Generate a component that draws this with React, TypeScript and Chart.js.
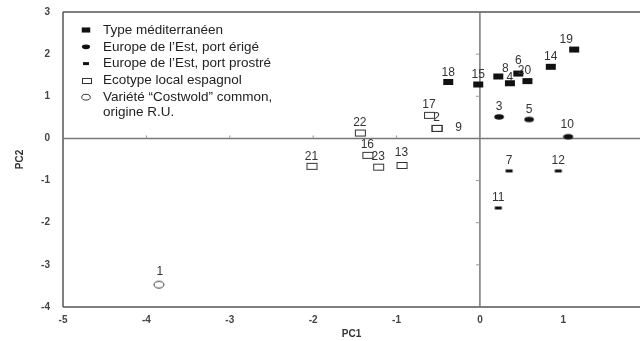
import React, { useEffect, useRef } from 'react';
import { Chart, registerables } from 'chart.js';

Chart.register(...registerables);

const FONT = "'Liberation Sans', Arial, Helvetica, sans-serif";

// ---- Data ----
const seriesNames = [
  'Type méditerranéen',
  'Europe de l’Est, port érigé',
  'Europe de l’Est, port prostré',
  'Ecotype local espagnol',
  'Variété “Costwold” common,',
];
const seriesNameContinuation = 'origine R.U.';

const medLabels = ['18', '15', '8', '4', '6', '20', '14', '19'];
const medX = [-0.38, -0.02, 0.22, 0.36, 0.46, 0.57, 0.85, 1.13];
const medY = [1.34, 1.28, 1.47, 1.31, 1.54, 1.36, 1.7, 2.11];

const erigeLabels = ['3', '5', '10'];
const erigeX = [0.23, 0.59, 1.06];
const erigeY = [0.51, 0.45, 0.04];

const prostreLabels = ['7', '12', '11'];
const prostreX = [0.35, 0.94, 0.22];
const prostreY = [-0.77, -0.77, -1.65];

const ecoLabels = ['17', '2', '9', '22', '16', '23', '13', '21'];
const ecoX = [-0.61, -0.52, -0.52, -1.44, -1.35, -1.22, -0.94, -2.02];
const ecoY = [0.56, 0.25, 0.25, 0.14, -0.39, -0.67, -0.63, -0.65];

const costLabels = ['1'];
const costX = [-3.85];
const costY = [-3.47];

const xTicks = [-5, -4, -3, -2, -1, 0, 1];
const yTicks = [-4, -3, -2, -1, 0, 1, 2, 3];
const xMin = -5;
const xMax = 1.92;
const yMin = -4;
const yMax = 3;

// ---- Styles ----
const labelOffsets: Record<string, [number, number]> = {
  '19': [-8, -10],
  '8': [7, -8],
  '4': [0, -6],
  '6': [0, -13],
  '9': [22, 0],
  '20': [-3, -10],
  '1': [1, -13],
  '10': [-1, -12],
  '13': [0, -12],
  '18': [0, -9],
  '21': [0, -9],
};

type Kind = 'fillRect' | 'fillEllipse' | 'dash' | 'openRect' | 'openEllipse';

function drawMarker(ctx: CanvasRenderingContext2D, kind: Kind, cx: number, cy: number, scale = 1) {
  ctx.save();
  ctx.fillStyle = '#111';
  ctx.strokeStyle = '#333';
  ctx.lineWidth = 1;
  if (kind === 'fillRect') {
    const w = 10 * scale, h = 6 * scale;
    ctx.fillRect(cx - w / 2, cy - h / 2, w, h);
  } else if (kind === 'fillEllipse') {
    ctx.beginPath();
    ctx.ellipse(cx, cy, 4.8 * scale, 2.8 * scale, 0, 0, Math.PI * 2);
    ctx.fill();
  } else if (kind === 'dash') {
    const w = 7 * scale, h = 3;
    ctx.fillRect(cx - w / 2, cy - h / 2, w, h);
  } else if (kind === 'openRect') {
    const w = 10 * scale, h = 6 * scale;
    ctx.strokeRect(Math.round(cx - w / 2) + 0.5, Math.round(cy - h / 2) + 0.5, Math.round(w), Math.round(h));
  } else {
    ctx.beginPath();
    ctx.ellipse(cx, cy, 5 * scale, 3.4 * scale, 0, 0, Math.PI * 2);
    ctx.stroke();
  }
  ctx.restore();
}

function markerCanvas(kind: Kind): HTMLCanvasElement {
  const c = document.createElement('canvas');
  c.width = 14;
  c.height = 10;
  const ctx = c.getContext('2d')!;
  drawMarker(ctx, kind, 7, 5);
  return c;
}

const kinds: Kind[] = ['fillRect', 'fillEllipse', 'dash', 'openRect', 'openEllipse'];

function toPoints(xs: number[], ys: number[]) {
  return xs.map((x, i) => ({ x, y: ys[i] }));
}

export default function App() {
  const ref = useRef<HTMLCanvasElement>(null);

  useEffect(() => {
    document.body.style.margin = '0';
    const canvas = ref.current!;
    const groups = [
      { xs: medX, ys: medY, labels: medLabels },
      { xs: erigeX, ys: erigeY, labels: erigeLabels },
      { xs: prostreX, ys: prostreY, labels: prostreLabels },
      { xs: ecoX, ys: ecoY, labels: ecoLabels },
      { xs: costX, ys: costY, labels: costLabels },
    ];

    const decor = {
      id: 'decor',
      beforeDatasetsDraw(chart: any) {
        const { ctx, chartArea: a, scales } = chart;
        const xs = scales.x, ys = scales.y;
        const line = (x1: number, y1: number, x2: number, y2: number) => {
          ctx.beginPath();
          ctx.moveTo(x1, y1);
          ctx.lineTo(x2, y2);
          ctx.stroke();
        };
        ctx.save();
        ctx.strokeStyle = '#555';
        ctx.lineWidth = 1.5;
        line(a.left, a.top, a.right, a.top);
        line(a.left, a.top, a.left, a.bottom);
        line(a.left, a.bottom, a.right, a.bottom);
        const x0 = xs.getPixelForValue(0);
        const y0 = ys.getPixelForValue(0);
        ctx.strokeStyle = '#777';
        line(x0, a.top, x0, a.bottom);
        line(a.left, y0, a.right, y0);
        ctx.lineWidth = 1;
        ctx.strokeStyle = '#999';
        for (const t of yTicks) {
          if (t === yMin || t === yMax || t === 0) continue;
          const py = ys.getPixelForValue(t);
          line(x0 - 4, py, x0, py);
        }
        for (const t of xTicks) {
          if (t === xMin || t === 0) continue;
          const px = xs.getPixelForValue(t);
          line(px, y0 - 3, px, y0);
        }
        ctx.restore();
      },
      afterDatasetsDraw(chart: any) {
        const { ctx } = chart;
        ctx.save();
        ctx.font = `12px ${FONT}`;
        ctx.fillStyle = '#333';
        ctx.textAlign = 'center';
        ctx.textBaseline = 'middle';
        groups.forEach((g, di) => {
          const meta = chart.getDatasetMeta(di);
          meta.data.forEach((el: any, i: number) => {
            const lab = g.labels[i];
            const off = labelOffsets[lab] || [0, -10];
            ctx.fillText(lab, el.x + off[0], el.y + off[1]);
          });
        });
        ctx.restore();
      },
      afterDraw(chart: any) {
        const { ctx, chartArea: a } = chart;
        ctx.save();
        const mx = a.left + 23;
        const tx = a.left + 40;
        const y0 = a.top + 18;
        const step = 16.8;
        ctx.font = `13.5px ${FONT}`;
        ctx.fillStyle = '#222';
        ctx.textAlign = 'left';
        ctx.textBaseline = 'middle';
        seriesNames.forEach((name, i) => {
          const yy = y0 + i * step;
          drawMarker(ctx, kinds[i], mx, yy, 0.85);
          ctx.fillStyle = '#222';
          ctx.fillText(name, tx, yy);
        });
        ctx.fillText(seriesNameContinuation, tx, y0 + 5 * step - 1.5);
        ctx.restore();
      },
    };

    const chart = new Chart(canvas, {
      type: 'scatter',
      data: {
        datasets: groups.map((g, i) => ({
          label: seriesNames[i],
          data: toPoints(g.xs, g.ys),
          pointStyle: markerCanvas(kinds[i]) as any,
          pointRadius: 5,
          backgroundColor: '#111',
          borderColor: '#111',
        })),
      },
      options: {
        responsive: false,
        animation: false,
        layout: { autoPadding: false, padding: { top: 12, left: 0, right: 0, bottom: 0 } },
        plugins: {
          legend: { display: false },
          tooltip: { enabled: false },
        },
        scales: {
          x: {
            type: 'linear',
            min: xMin,
            max: xMax,
            afterBuildTicks: (s: any) => {
              s.ticks = xTicks.map((v) => ({ value: v }));
            },
            ticks: {
              font: { family: FONT, size: 10, weight: 'bold' },
              color: '#444',
              padding: 7,
              maxRotation: 0,
            },
            grid: { display: false, drawTicks: false },
            border: { display: false },
            title: {
              display: true,
              text: 'PC1',
              font: { family: FONT, size: 10, weight: 'bold' },
              color: '#333',
              padding: { top: 2, bottom: 1 },
            },
            afterFit: (s: any) => {
              s.height = 34;
            },
          },
          y: {
            type: 'linear',
            min: yMin,
            max: yMax,
            afterBuildTicks: (s: any) => {
              s.ticks = yTicks.map((v) => ({ value: v }));
            },
            ticks: {
              font: { family: FONT, size: 10, weight: 'bold' },
              color: '#444',
              padding: 3,
            },
            grid: {
              display: true,
              drawOnChartArea: false,
              drawTicks: true,
              tickLength: 10,
              color: 'rgba(0,0,0,0)',
            },
            border: { display: false },
            title: {
              display: true,
              text: 'PC2',
              font: { family: FONT, size: 10, weight: 'bold' },
              color: '#333',
              padding: { top: 14, bottom: 0 },
            },
            afterFit: (s: any) => {
              s.width = 63;
            },
          },
        },
      },
      plugins: [decor],
    });

    return () => chart.destroy();
  }, []);

  return (
    <div style={{ position: 'absolute', left: 0, top: 0, width: 640, height: 341, background: '#fff' }}>
      <canvas ref={ref} width={640} height={341} style={{ display: 'block', width: 640, height: 341 }} />
    </div>
  );
}
